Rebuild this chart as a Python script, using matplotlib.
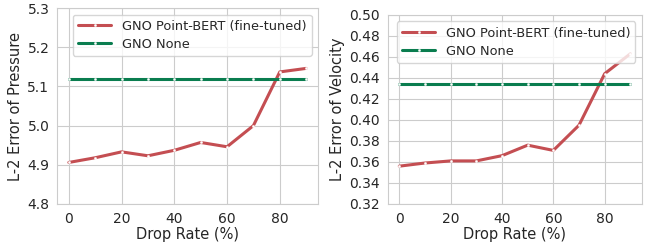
import numpy as np
import matplotlib
matplotlib.use("Agg")
import matplotlib.pyplot as plt
import seaborn as sns

sns.set_style("whitegrid")
plt.rcParams['font.family'] = ['DejaVu Sans']

drop_rate = [0, 10, 20, 30, 40, 50, 60, 70, 80, 90]
pressure_bert = [4.906, 4.918, 4.933, 4.923, 4.937, 4.957, 4.946, 5.000, 5.137, 5.146]
pressure_none = [5.12] * 10
velocity_bert = [0.356, 0.359, 0.361, 0.361, 0.366, 0.376, 0.371, 0.395, 0.444, 0.463]
velocity_none = [0.434] * 10

labels = ["GNO Point-BERT (fine-tuned)", "GNO None"]
red = "#c44e52"
green = "#0a7d4f"

fig = plt.figure(figsize=(6.55, 2.44), dpi=100)
ax1 = fig.add_axes([0.087, 0.164, 0.3985, 0.803])  # pressure
ax2 = fig.add_axes([0.592, 0.164, 0.388, 0.775])   # velocity

panels = [
    (ax1, pressure_bert, pressure_none, "L-2 Error of Pressure", np.arange(4.8, 5.31, 0.1), (4.8, 5.3), "%.1f"),
    (ax2, velocity_bert, velocity_none, "L-2 Error of Velocity", np.arange(0.32, 0.501, 0.02), (0.32, 0.50), "%.2f"),
]

for ax, bert, none, ylab, yt, ylim, fmt in panels:
    ax.plot(drop_rate, bert, color=red, lw=2.2, marker="o", ms=1.6,
            mfc="white", mec="white", mew=0.3, label=labels[0])
    ax.plot(drop_rate, none, color=green, lw=2.2, marker="o", ms=1.6,
            mfc="white", mec="white", mew=0.3, label=labels[1])
    ax.set_xlim(-4.5, 94.5)
    ax.set_xticks([0, 20, 40, 60, 80])
    ax.set_ylim(*ylim)
    ax.set_yticks(yt)
    ax.set_yticklabels([fmt % v for v in yt])
    ax.set_xlabel("Drop Rate (%)", fontsize=10.5, labelpad=1)
    ax.set_ylabel(ylab, fontsize=10.5, labelpad=3)
    ax.tick_params(labelsize=10, pad=2)
    ax.legend(loc="upper right", fontsize=9.3, borderaxespad=0.5,
              handlelength=2.6, labelspacing=0.4)

plt.savefig("out.png", dpi=100)
